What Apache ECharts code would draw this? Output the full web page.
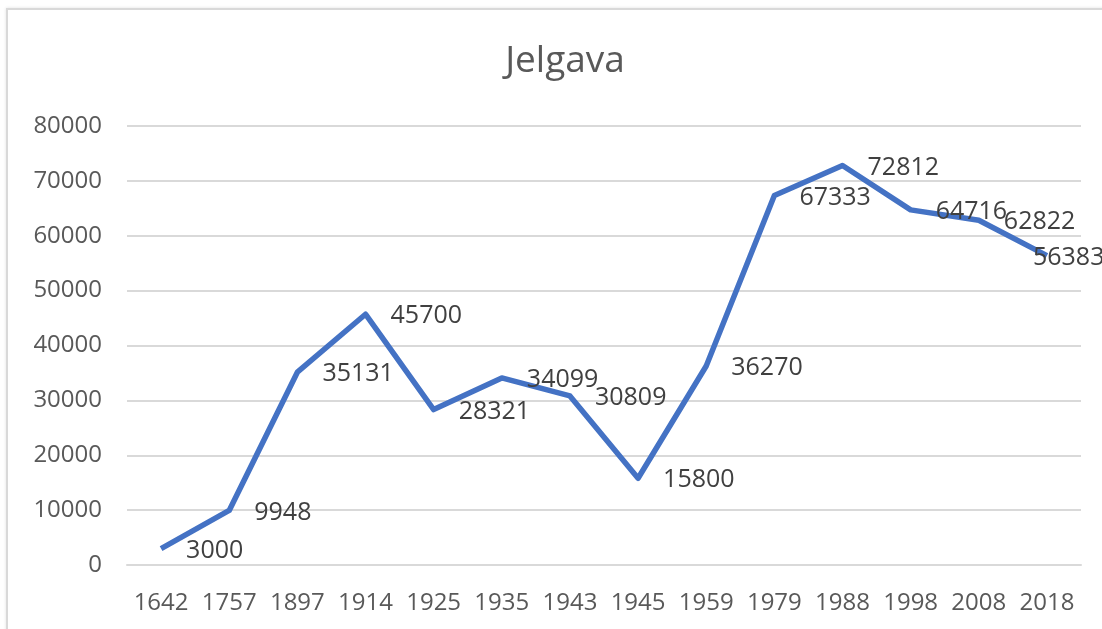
<!DOCTYPE html>
<html>
<head>
<meta charset="utf-8">
<script src="https://cdn.jsdelivr.net/npm/echarts@6/dist/echarts.min.js"></script>
<style>
  html, body { margin: 0; padding: 0; background: #fff; overflow: hidden; }
  #frame {
    position: absolute; left: 6px; top: 8px; width: 1120px; height: 650px;
    border: 2px solid #d9d9d9; box-sizing: border-box;
    box-shadow: 0 0 3px rgba(0, 0, 0, 0.12);
  }
  #chart { position: absolute; left: 0; top: 0; width: 1102px; height: 629px; }
</style>
</head>
<body>
<div id="frame"></div>
<div id="chart"></div>
<script>
const years = ['1642', '1757', '1897', '1914', '1925', '1935', '1943', '1945', '1959', '1979', '1988', '1998', '2008', '2018']
const population = [3000, 9948, 35131, 45700, 28321, 34099, 30809, 15800, 36270, 67333, 72812, 64716, 62822, 56383]
const chartTitle = 'Jelgava'

const textFont = '"Open Sans", "Liberation Sans", sans-serif'

// Excel pulls the last label back inside the plot area
const seriesData = population.map((value, index) =>
  index === population.length - 1
    ? { value, label: { offset: [-39, 2] } }
    : value
)

const chart = echarts.init(document.getElementById('chart'))

chart.setOption({
  animation: false,
  title: {
    text: chartTitle,
    left: 560,
    textAlign: 'center',
    top: 38,
    textStyle: {
      color: '#595959',
      fontFamily: textFont,
      fontSize: 37,
      fontWeight: 'normal',
    },
  },
  grid: {
    left: 127,
    right: 21,
    top: 126,
    bottom: 64,
  },
  xAxis: {
    type: 'category',
    data: years,
    axisLine: {
      lineStyle: { color: '#d9d9d9', width: 2 },
    },
    axisTick: { show: false },
    axisLabel: {
      color: '#595959',
      fontFamily: textFont,
      fontSize: 24,
      margin: 26,
      interval: 0,
    },
  },
  yAxis: {
    type: 'value',
    min: 0,
    max: 80000,
    interval: 10000,
    axisLine: { show: false },
    axisTick: { show: false },
    axisLabel: {
      color: '#595959',
      fontFamily: textFont,
      fontSize: 24,
      margin: 25,
      formatter: (value) => String(value),
    },
    splitLine: {
      lineStyle: { color: '#d9d9d9', width: 2 },
    },
  },
  series: [
    {
      type: 'line',
      data: seriesData,
      symbol: 'circle',
      symbolSize: 0.1,
      lineStyle: { color: '#4472c4', width: 5.5, join: 'round' },
      itemStyle: { color: '#4472c4' },
      label: {
        show: true,
        position: 'right',
        distance: 25,
        offset: [0, 2],
        color: '#404040',
        fontFamily: textFont,
        fontSize: 25,
      },
    },
  ],
})
</script>
</body>
</html>
